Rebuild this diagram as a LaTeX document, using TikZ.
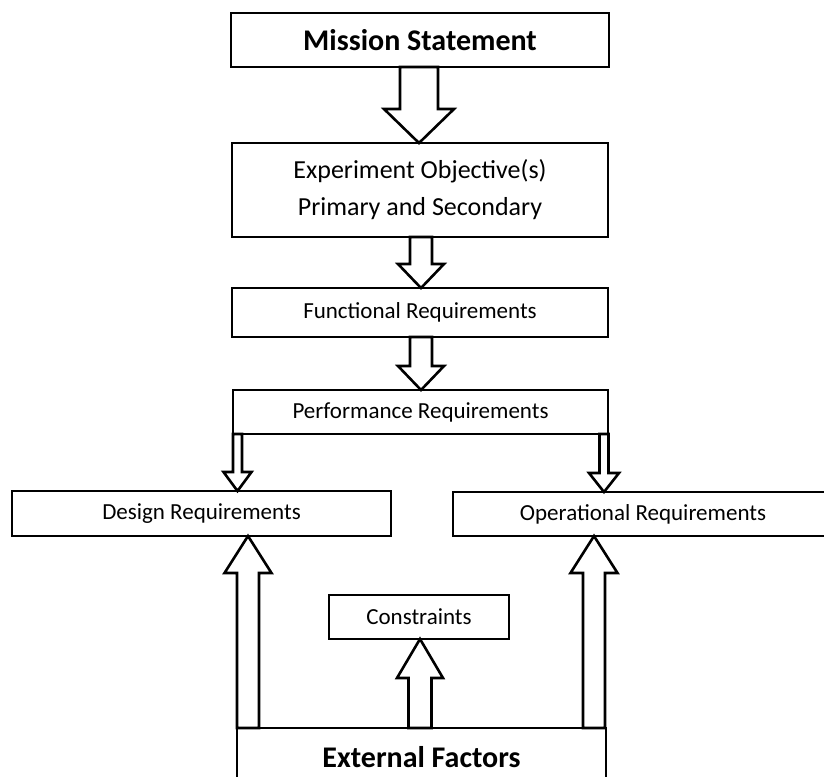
\documentclass[tikz,border=0pt]{standalone}
\usepackage{fontspec}
\setmainfont{Carlito}
\usetikzlibrary{calc}
\tikzset{
  box/.style={draw=black, line width=2.6pt, fill=white, rectangle, inner sep=0pt, outer sep=0pt, align=center},
  blk/.style={draw=black, line width=2.6pt, fill=white, line join=miter}
}
\newcommand{\blockdown}[5]{\draw[blk] let \p1=(#1), \p2=(#2) in
  (\x1-#3pt,\y1) -- (\x1-#3pt,\y2+#5pt) -- (\x1-#4pt,\y2+#5pt) -- (\x1,\y2) --
  (\x1+#4pt,\y2+#5pt) -- (\x1+#3pt,\y2+#5pt) -- (\x1+#3pt,\y1) -- cycle;}
\newcommand{\blockup}[5]{\draw[blk] let \p1=(#1), \p2=(#2) in
  (\x1-#3pt,\y1) -- (\x1-#3pt,\y2-#5pt) -- (\x1-#4pt,\y2-#5pt) -- (\x1,\y2) --
  (\x1+#4pt,\y2-#5pt) -- (\x1+#3pt,\y2-#5pt) -- (\x1+#3pt,\y1) -- cycle;}
\begin{document}
\begin{tikzpicture}[x=1pt,y=-1pt]
\useasboundingbox (0,0) rectangle (824,776);
\clip (0,0) rectangle (824,776);
\fill[white] (0,0) rectangle (824,776);
% boxes
\node[box, minimum width=378pt, minimum height=54pt, font=\fontsize{30}{34}\selectfont\bfseries] (ms) at (420,40) {Mission Statement};
\node[box, minimum width=376pt, minimum height=94pt, font=\fontsize{26}{37}\selectfont] (eo) at (420,190) {Experiment Objective(s)\\Primary and Secondary};
\node[box, minimum width=376pt, minimum height=49pt, font=\fontsize{23}{27}\selectfont] (fr) at (420,312.5) {Functional Requirements};
\node[box, minimum width=375pt, minimum height=44pt, font=\fontsize{23}{27}\selectfont] (pr) at (420.5,412) {Performance Requirements};
\node[box, minimum width=379pt, minimum height=45pt, font=\fontsize{23}{27}\selectfont] (dr) at (201.5,513.5) {Design Requirements};
\node[box, minimum width=380pt, minimum height=44pt, font=\fontsize{23}{27}\selectfont] (or) at (643,514) {Operational Requirements};
\node[box, minimum width=180pt, minimum height=44pt, font=\fontsize{23}{27}\selectfont] (cs) at (419,617) {Constraints};
\node[box, minimum width=369pt, minimum height=58pt, font=\fontsize{30}{34}\selectfont\bfseries] (ef) at (421.5,757) {External Factors};
% arrow anchor coordinates
\coordinate (a1s) at (ms.south -| 419,0);
\coordinate (a1t) at (eo.north -| 419,0);
\coordinate (a2s) at (eo.south -| 421,0);
\coordinate (a2t) at (fr.north -| 421,0);
\coordinate (a3s) at (fr.south -| 421,0);
\coordinate (a3t) at (pr.north -| 421,0);
\coordinate (a4s) at (pr.south -| 237.5,0);
\coordinate (a4t) at (dr.north -| 237.5,0);
\coordinate (a5s) at (pr.south -| 604,0);
\coordinate (a5t) at (or.north -| 604,0);
\coordinate (u1s) at (ef.north -| 248,0);
\coordinate (u1t) at (dr.south -| 248,0);
\coordinate (u2s) at (ef.north -| 594,0);
\coordinate (u2t) at (or.south -| 594,0);
\coordinate (u3s) at (ef.north -| 420,0);
\coordinate (u3t) at (cs.south -| 420,0);
% block arrows
\blockdown{a1s}{a1t}{19}{35}{34}
\blockdown{a2s}{a2t}{11}{23}{24}
\blockdown{a3s}{a3t}{11}{23}{24}
\blockdown{a4s}{a4t}{4.5}{14}{19}
\blockdown{a5s}{a5t}{4.5}{15}{19}
\blockup{u1s}{u1t}{11}{23.5}{37}
\blockup{u2s}{u2t}{11}{23.5}{37}
\blockup{u3s}{u3t}{11.5}{23}{39}
\end{tikzpicture}
\end{document}
